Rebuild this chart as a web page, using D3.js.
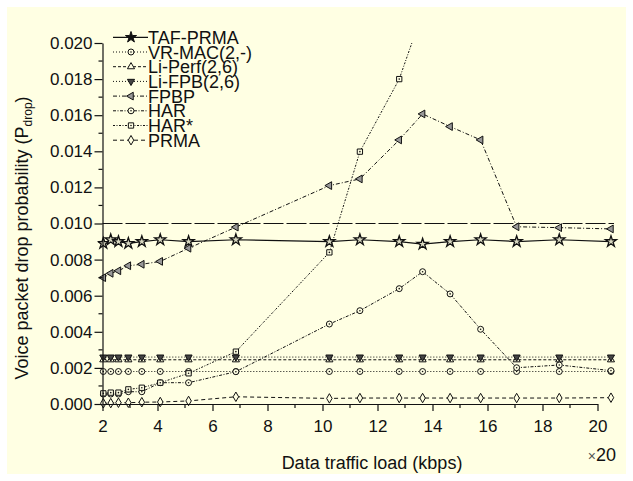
<!DOCTYPE html>
<html>
<head>
<meta charset="utf-8">
<script src="https://cdn.jsdelivr.net/npm/d3@7"></script>
<style>
  body { margin: 0; background: #fff; }
  text { font-family: "Liberation Sans", Arial, sans-serif; fill: #111; }
</style>
</head>
<body>
<div class="chart"></div>
<script>
// data
var loads = [2.03, 2.3, 2.58, 2.94, 3.43, 4.1, 5.13, 6.85, 10.25, 11.36, 12.79, 13.64, 14.64, 15.75, 17.06, 18.61, 20.49];

var tafPrma = [0.0089, 0.0091, 0.0090, 0.0089, 0.0090, 0.0091, 0.0090, 0.0091, 0.0090, 0.0091, 0.0090, 0.00886, 0.0090, 0.0091, 0.0090, 0.0091, 0.0090];
var vrMac   = [0.0018, 0.0018, 0.0018, 0.0018, 0.0018, 0.0018, 0.0018, 0.0018, 0.0018, 0.0018, 0.0018, 0.0018, 0.0018, 0.0018, 0.0018, 0.0018, 0.0018];
var liPerf  = [0.00245, 0.00245, 0.00245, 0.00245, 0.00245, 0.00245, 0.00245, 0.00245, 0.00245, 0.00245, 0.00245, 0.00245, 0.00245, 0.00245, 0.00245, 0.00245, 0.00245];
var liFpb   = [0.0026, 0.0026, 0.0026, 0.0026, 0.0026, 0.0026, 0.0026, 0.0026, 0.0026, 0.0026, 0.0026, 0.0026, 0.0026, 0.0026, 0.0026, 0.0026, 0.0026];
var fpbp    = [0.0070, 0.00724, 0.00738, 0.00766, 0.00774, 0.0079, 0.00863, 0.0098, 0.0121, 0.01247, 0.01463, 0.01607, 0.01537, 0.01463, 0.00982, 0.00977, 0.0097];
var har     = [0.00055, 0.00055, 0.00055, 0.00068, 0.00068, 0.00118, 0.00118, 0.00179, 0.00443, 0.00517, 0.00639, 0.00733, 0.0061, 0.00414, 0.00201, 0.00216, 0.00185];
var harStar = [0.00059, 0.00063, 0.00063, 0.00081, 0.0009, 0.00118, 0.0017, 0.0029, 0.0084, 0.01398, 0.018, 0.0217];
var prma    = [0.00004, 0.00005, 0.00007, 0.00007, 0.0001, 0.00011, 0.00017, 0.0004, 0.00031, 0.00033, 0.00033, 0.00033, 0.00033, 0.00033, 0.00033, 0.00033, 0.00035];
var threshold = 0.010;

var seriesNames = ["TAF-PRMA", "VR-MAC(2,-)", "Li-Perf(2,6)", "Li-FPB(2,6)", "FPBP", "HAR", "HAR*", "PRMA"];
var seriesValues = [tafPrma, vrMac, liPerf, liFpb, fpbp, har, harStar, prma];

var yTicks = d3.range(0, 0.0201, 0.002);
var xTicks = d3.range(2, 20.1, 2);

// chart setup
var svgWidth = 633;
var svgHeight = 481;
var margin = { top: 43, right: 35.5, bottom: 77, left: 102.5 };
var width = svgWidth - margin.left - margin.right;
var height = svgHeight - margin.top - margin.bottom;

var svg = d3.select(".chart").append("svg")
  .attr("width", svgWidth)
  .attr("height", svgHeight);

// yellow panel
svg.append("rect")
  .attr("x", 7).attr("y", 7)
  .attr("width", 619).attr("height", 467)
  .attr("fill", "#ffffe3");

var chart = svg.append("g")
  .attr("transform", "translate(" + margin.left + "," + margin.top + ")");

var x = d3.scaleLinear().domain([2, 20]).range([0, width]);
var y = d3.scaleLinear().domain([0, 0.020]).range([height, 0]);

svg.append("defs").append("clipPath").attr("id", "clip")
  .append("rect").attr("x", -5).attr("y", 0).attr("width", width + 40).attr("height", height + 5);

// style of each series
var styles = [
  { dash: null, symbol: d3.symbolStar, size: 38, fill: "#d8d8c0", lw: 1.2 },
  { dash: "1,2", symbol: d3.symbolCircle, size: 28, fill: "#ffffe3", lw: 1 },
  { dash: "3,2", symbol: d3.symbolTriangle, size: 22, fill: "#ffffe3", lw: 1, rot: 0 },
  { dash: "1,2", symbol: d3.symbolTriangle, size: 22, fill: "#444", lw: 1, rot: 180 },
  { dash: "4,2,1,2", symbol: d3.symbolTriangle, size: 26, fill: "#999", lw: 1, rot: -90 },
  { dash: "3,1.5,1,1.5", symbol: d3.symbolCircle, size: 28, fill: "#ffffe3", lw: 1 },
  { dash: "2,1.5,1,1.5", symbol: d3.symbolSquare, size: 28, fill: "#ffffe3", lw: 1 },
  { dash: "4,3", symbol: d3.symbolDiamond, size: 26, fill: "#ffffe3", lw: 1 }
];

// threshold line
chart.append("line")
  .attr("x1", 0).attr("x2", x(20.6))
  .attr("y1", y(threshold)).attr("y2", y(threshold))
  .attr("stroke", "#111").attr("stroke-width", 1.1)
  .attr("stroke-dasharray", "20,3");

var line = d3.line()
  .x(function(d, i) { return x(loads[i]); })
  .y(function(d) { return y(d); });

var plot = chart.append("g").attr("clip-path", "url(#clip)");

seriesValues.forEach(function(vals, s) {
  var st = styles[s];
  plot.append("path")
    .datum(vals)
    .attr("d", line)
    .attr("fill", "none")
    .attr("stroke", "#111")
    .attr("stroke-width", st.lw)
    .attr("stroke-dasharray", st.dash);
});

seriesValues.forEach(function(vals, s) {
  var st = styles[s];
  var pts = vals.map(function(v, i) { return [loads[i], v]; })
    .filter(function(p) { return p[1] <= 0.020; });
  var g = plot.append("g");
  g.selectAll("path")
    .data(pts)
    .enter().append("path")
    .attr("transform", function(p) {
      return "translate(" + x(p[0]) + "," + y(p[1]) + ")" + (st.rot ? " rotate(" + st.rot + ")" : "");
    })
    .attr("d", d3.symbol().type(st.symbol).size(st.size))
    .attr("fill", st.fill)
    .attr("stroke", "#111")
    .attr("stroke-width", s === 0 ? 1.3 : 1);
  if (st.symbol === d3.symbolCircle || st.symbol === d3.symbolSquare) {
    g.selectAll("circle")
      .data(pts)
      .enter().append("circle")
      .attr("cx", function(p) { return x(p[0]); })
      .attr("cy", function(p) { return y(p[1]); })
      .attr("r", 0.8)
      .attr("fill", "#111");
  }
});

// axes
var bottomAxis = d3.axisBottom(x).tickValues(xTicks).tickSize(7).tickPadding(9).tickSizeOuter(0)
  .tickFormat(d3.format("d"));
var leftAxis = d3.axisLeft(y).tickValues(yTicks).tickSize(8).tickPadding(2).tickSizeOuter(0)
  .tickFormat(d3.format(".3f"));

var xg = chart.append("g")
  .attr("transform", "translate(0," + height + ")")
  .call(bottomAxis);
xg.selectAll("text").style("font-size", "17px").attr("fill", "#111");

var yg = chart.append("g").call(leftAxis);
yg.selectAll("text").style("font-size", "17px").attr("fill", "#111");

[xg, yg].forEach(function(g) {
  g.select(".domain").attr("stroke", "#111").attr("stroke-width", 1.2);
  g.selectAll(".tick line").attr("stroke", "#111").attr("stroke-width", 1.2);
});

// minor ticks
chart.append("g").selectAll("line")
  .data(d3.range(3, 20, 2))
  .enter().append("line")
  .attr("x1", function(d) { return x(d); }).attr("x2", function(d) { return x(d); })
  .attr("y1", height).attr("y2", height + 4)
  .attr("stroke", "#111").attr("stroke-width", 1.2);

chart.append("g").selectAll("line")
  .data(d3.range(0.001, 0.020, 0.002))
  .enter().append("line")
  .attr("x1", -4).attr("x2", 0)
  .attr("y1", function(d) { return y(d); }).attr("y2", function(d) { return y(d); })
  .attr("stroke", "#111").attr("stroke-width", 1.2);

// axis titles
svg.append("text")
  .attr("x", 372).attr("y", 469)
  .attr("text-anchor", "middle")
  .style("font-size", "18px")
  .text("Data traffic load (kbps)");

var mult = svg.append("text")
  .attr("x", 616).attr("y", 461)
  .attr("text-anchor", "end")
  .style("font-size", "18px");
mult.append("tspan").style("font-size", "14px").attr("fill", "#555").text("×");
mult.append("tspan").text("20");

var yTitle = svg.append("text")
  .attr("transform", "translate(28,238) rotate(-90)")
  .attr("text-anchor", "middle")
  .style("font-size", "18px");
yTitle.append("tspan").text("Voice packet drop probability (P");
yTitle.append("tspan").style("font-size", "12px").attr("dy", 4).text("drop");
yTitle.append("tspan").attr("dy", -4).text(")");

// legend
var legend = svg.append("g");
seriesNames.forEach(function(name, s) {
  var st = styles[s];
  var ly = 37.3 + s * 14.7;
  legend.append("line")
    .attr("x1", 113).attr("x2", 148)
    .attr("y1", ly).attr("y2", ly)
    .attr("stroke", "#111").attr("stroke-width", st.lw)
    .attr("stroke-dasharray", st.dash);
  legend.append("path")
    .attr("transform", "translate(131," + ly + ")" + (st.rot ? " rotate(" + st.rot + ")" : ""))
    .attr("d", d3.symbol().type(st.symbol).size(st.size))
    .attr("fill", s === 0 ? "#111" : st.fill)
    .attr("stroke", "#111").attr("stroke-width", 1);
  if (st.symbol === d3.symbolCircle || st.symbol === d3.symbolSquare) {
    legend.append("circle").attr("cx", 131).attr("cy", ly).attr("r", 0.8).attr("fill", "#111");
  }
  legend.append("text")
    .attr("x", 148).attr("y", ly + 6.5)
    .style("font-size", "18px")
    .text(name);
});
</script>
</body>
</html>
